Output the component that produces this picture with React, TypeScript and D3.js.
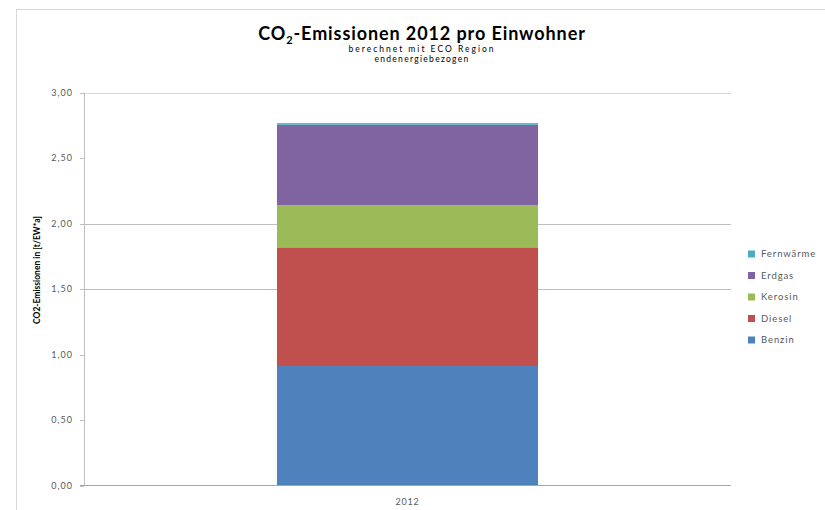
import React from "react";
import * as d3 from "d3";

// Emission sources, bottom to top of the stack
const sources = ["Benzin", "Diesel", "Kerosin", "Erdgas", "Fernwärme"];
const sourceColors = ["#4F81BD", "#C0504D", "#9BBB59", "#8064A2", "#4BACC6"];
const years = ["2012"];
// t CO2 per inhabitant and year, one value per source
const values2012 = [0.912, 0.906, 0.321, 0.615, 0.012];
const yTicks = [0, 0.5, 1, 1.5, 2, 2.5, 3];
const gridValues = [1.5, 2, 3];

const W = 825;
const H = 510;
const plot = { left: 84, right: 731, top: 92.5, bottom: 485.5 };
const font = "Lato, 'Open Sans', 'DejaVu Sans', sans-serif";

export default function App() {
  const y = d3.scaleLinear().domain([0, 3]).range([plot.bottom, plot.top]);
  const x = d3.scaleBand<string>().domain(years).range([plot.left, plot.right]).padding(0.425);
  const fmt = (v: number) => d3.format(".2f")(v).replace(".", ",");

  const row: Record<string, number> = {};
  sources.forEach((s, i) => (row[s] = values2012[i]));
  const stacked = d3.stack<Record<string, number>>().keys(sources)([row]);
  const color = d3.scaleOrdinal<string, string>().domain(sources).range(sourceColors);

  const legendItems = [...sources].reverse();
  const legendY = d3.scalePoint<string>().domain(legendItems).range([254, 340]);

  return (
    <svg
      width={W}
      height={H}
      style={{ position: "absolute", left: 0, top: 0, background: "#fff" }}
      fontFamily={font}
    >
      <rect x={16.5} y={9.5} width={900} height={600} fill="#fff" stroke="#d9d9d9" />

      {/* title */}
      <text x={422} y={40} textAnchor="middle" fontSize={18} fontWeight="bold" fill="#000" letterSpacing={0.9}>
        CO<tspan fontSize={11} dy={4}>2</tspan>
        <tspan dy={-4}>-Emissionen 2012 pro Einwohner</tspan>
      </text>
      <text x={422} y={51.5} textAnchor="middle" fontSize={8.5} fill="#000" letterSpacing={2}>
        berechnet mit ECO Region
      </text>
      <text x={422} y={62} textAnchor="middle" fontSize={8.5} fill="#000" letterSpacing={1.3}>
        endenergiebezogen
      </text>

      {/* grid */}
      {gridValues.map((v) => (
        <line
          key={v}
          x1={plot.left}
          x2={plot.right}
          y1={Math.round(y(v)) + 0.5}
          y2={Math.round(y(v)) + 0.5}
          stroke={v === 3 ? "#d9d9d9" : "#bfbfbf"}
          strokeWidth={1.2}
        />
      ))}

      {/* y axis */}
      <line x1={plot.left + 0.5} x2={plot.left + 0.5} y1={plot.top} y2={plot.bottom} stroke="#bfbfbf" />
      {yTicks.map((v) => (
        <g key={v}>
          <line
            x1={plot.left - 4}
            x2={plot.left}
            y1={Math.round(y(v)) + 0.5}
            y2={Math.round(y(v)) + 0.5}
            stroke="#bfbfbf"
          />
          <text x={73} y={y(v) + 3} textAnchor="end" fontSize={9} fill="#595959" letterSpacing={1}>
            {fmt(v)}
          </text>
        </g>
      ))}
      <text
        transform={`translate(40,270) rotate(-90)`}
        textAnchor="middle"
        fontSize={8.5}
        fontWeight="bold"
        fill="#000"
      >
        CO2-Emissionen in [t/EW*a]
      </text>

      {/* stacked bar */}
      {stacked.map((layer) =>
        layer.map((d, i) => (
          <rect
            key={layer.key + i}
            x={x(years[i])}
            width={x.bandwidth()}
            y={y(d[1])}
            height={y(d[0]) - y(d[1])}
            fill={color(layer.key)}
          />
        ))
      )}

      {/* x axis */}
      <line x1={plot.left - 4} x2={plot.right} y1={plot.bottom} y2={plot.bottom} stroke="#a6a6a6" strokeWidth={1.2} />
      {years.map((yr) => (
        <text key={yr} x={(x(yr) ?? 0) + x.bandwidth() / 2} y={505} textAnchor="middle" fontSize={9} fill="#595959" letterSpacing={0.8}>
          {yr}
        </text>
      ))}

      {/* legend */}
      {legendItems.map((s) => (
        <g key={s} transform={`translate(748,${legendY(s)})`}>
          <rect x={0} y={-3.5} width={7} height={7} fill={color(s)} />
          <text x={13} y={3.2} fontSize={9.5} fill="#595959" letterSpacing={0.9}>
            {s}
          </text>
        </g>
      ))}
    </svg>
  );
}
